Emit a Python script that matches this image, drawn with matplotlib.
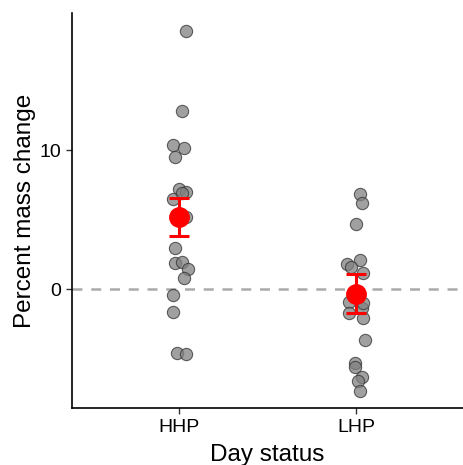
import matplotlib
matplotlib.use("Agg")
import matplotlib.pyplot as plt

plt.rcParams['font.family'] = ['Liberation Sans', 'DejaVu Sans']

# categories and group positions
groups = ["HHP", "LHP"]

# jittered x positions and percent mass change
hhp_x = [1.04, 1.02, 0.97, 1.03, 0.98, 1.00, 1.04, 0.97, 1.02, 1.04,
         0.98, 0.98, 1.02, 1.05, 1.03, 0.97, 0.97, 0.99, 1.04]
hhp_y = [18.56, 12.83, 10.38, 10.14, 9.52, 7.17, 6.98, 6.47, 6.88, 5.16,
         2.97, 1.85, 1.92, 1.42, 0.81, -0.43, -1.63, -4.58, -4.70]

lhp_x = [2.02, 2.03, 2.00, 1.95, 2.02, 1.97, 2.04, 1.96, 1.96, 2.03,
         2.04, 2.04, 2.05, 1.99, 1.99, 2.03, 2.01, 2.02]
lhp_y = [6.81, 6.21, 4.68, 1.80, 2.09, 1.56, 1.13, -0.91, -1.75, -1.39,
         -2.11, -1.03, -3.67, -5.30, -5.63, -6.31, -6.62, -7.34]

# group means and standard errors (red summary)
means = [5.2, -0.35]
ses = [1.38, 1.40]

fig = plt.figure(figsize=(4.63, 4.65), dpi=100)
ax = fig.add_axes([0.1555, 0.1226, 0.8445, 0.8494])

ax.axhline(0, color='#aaaaaa', linewidth=1.8, linestyle=(0, (4, 3.5)), zorder=1)

ax.scatter(hhp_x, hhp_y, s=78, facecolor='#808080', edgecolor='#333333',
           linewidth=0.8, alpha=0.75, zorder=2)
ax.scatter(lhp_x, lhp_y, s=78, facecolor='#808080', edgecolor='#333333',
           linewidth=0.8, alpha=0.75, zorder=2)

ax.errorbar([1, 2], means, yerr=ses, fmt='o', color='red', markersize=14,
            elinewidth=2.2, capsize=7, capthick=2.2, zorder=3)

ax.set_xlim(0.4, 2.6)
ax.set_ylim(-8.56, 19.86)
ax.set_xticks([1, 2])
ax.set_xticklabels(groups)
ax.set_yticks([0, 10])

ax.spines['top'].set_visible(False)
ax.spines['right'].set_visible(False)
for s in ['left', 'bottom']:
    ax.spines[s].set_linewidth(1.2)
    ax.spines[s].set_color('black')

ax.tick_params(axis='both', labelsize=14, colors='#333333', length=4,
               width=1.0, pad=4, labelcolor='black')

ax.set_xlabel("Day status", fontsize=17.5, labelpad=6)
ax.set_ylabel("Percent mass change", fontsize=17.5, labelpad=2)

plt.savefig("out.png", dpi=100)
plt.close()
